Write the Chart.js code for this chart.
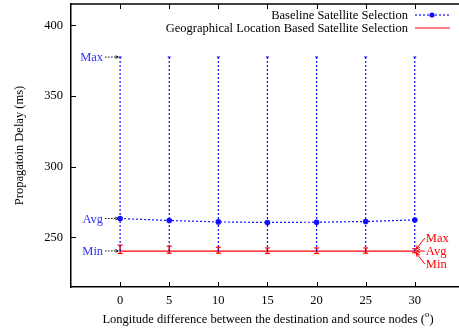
<!DOCTYPE html>
<html lang="en">
<head>
  <meta charset="UTF-8" />
  <title>Propagation Delay</title>
  <script src="https://cdn.jsdelivr.net/npm/chart.js"></script>
  <style>
    html, body { margin: 0; padding: 0; background: #fff; }
    #wrap { width: 459px; height: 330px; }
  </style>
</head>
<body>
  <div id="wrap"><canvas id="chart"></canvas></div>

  <script>
    const xValues = [0, 5, 10, 15, 20, 25, 30];
    const xTicks = [0, 5, 10, 15, 20, 25, 30];
    const yTicks = [250, 300, 350, 400];

    // Baseline: avg with min/max range
    const baseAvg = [263.4, 262.0, 261.0, 260.6, 260.8, 261.3, 262.4];
    const baseMax = [377.5, 377.5, 377.5, 377.5, 377.5, 377.5, 377.5];
    const baseMin = [240.5, 240.5, 240.5, 240.5, 240.5, 240.5, 240.5];

    // Geographical location based: avg with min/max range
    const geoAvg = [240.4, 240.4, 240.4, 240.4, 240.4, 240.4, 240.4];
    const geoMax = [244.6, 243.8, 243.1, 242.6, 242.6, 242.6, 242.0];
    const geoMin = [238.7, 238.9, 238.9, 238.7, 238.7, 238.9, 239.2];

    const FONT = '"Liberation Serif", "Times New Roman", serif';
    const BLUE = '#1010ff';
    const RED = '#ff0000';

    const pts = (xs, ys) => xs.map((x, i) => ({ x, y: ys[i] }));
    const rangeSegs = (lo, hi) => {
      const out = [];
      xValues.forEach((x, i) => {
        out.push({ x, y: lo[i] }, { x, y: hi[i] }, { x, y: null });
      });
      return out;
    };

    function line(ctx, x1, y1, x2, y2) {
      ctx.beginPath();
      ctx.moveTo(x1, y1);
      ctx.lineTo(x2, y2);
      ctx.stroke();
    }

    function arrow(ctx, x1, y1, x2, y2, size) {
      line(ctx, x1, y1, x2, y2);
      const a = Math.atan2(y2 - y1, x2 - x1);
      ctx.setLineDash([]);
      ctx.beginPath();
      ctx.moveTo(x2, y2);
      ctx.lineTo(x2 - size * Math.cos(a - 0.45), y2 - size * Math.sin(a - 0.45));
      ctx.moveTo(x2, y2);
      ctx.lineTo(x2 - size * Math.cos(a + 0.45), y2 - size * Math.sin(a + 0.45));
      ctx.stroke();
    }

    const decor = {
      id: 'decor',
      afterDatasetsDraw(chart) {
        const { ctx, chartArea: a, scales: { x, y } } = chart;
        ctx.save();

        // error bar caps
        ctx.lineWidth = 1.2;
        xValues.forEach((v, i) => {
          const px = x.getPixelForValue(v);
          ctx.strokeStyle = BLUE;
          line(ctx, px - 1.5, y.getPixelForValue(baseMax[i]), px + 1.5, y.getPixelForValue(baseMax[i]));
          ctx.strokeStyle = RED;
          line(ctx, px - 2.5, y.getPixelForValue(geoMax[i]), px + 2.5, y.getPixelForValue(geoMax[i]));
          line(ctx, px - 2.5, y.getPixelForValue(geoMin[i]), px + 2.5, y.getPixelForValue(geoMin[i]));
        });

        // frame top and inner ticks
        ctx.strokeStyle = '#000';
        ctx.lineWidth = 1.5;
        line(ctx, a.left, a.top, a.right, a.top);
        ctx.lineWidth = 1;
        xTicks.forEach(v => {
          const px = Math.round(x.getPixelForValue(v)) + 0.5;
          line(ctx, px, a.bottom, px, a.bottom - 5);
          line(ctx, px, a.top, px, a.top + 5);
        });
        yTicks.forEach(v => {
          const py = Math.round(y.getPixelForValue(v)) + 0.5;
          line(ctx, a.left, py, a.left + 5, py);
        });

        // blue annotations at x = 0
        const x0 = x.getPixelForValue(xValues[0]);
        ctx.font = '12.5px ' + FONT;
        ctx.textBaseline = 'middle';
        [['Max', baseMax[0]], ['Avg', baseAvg[0]], ['Min', baseMin[0]]].forEach(([t, v]) => {
          const py = y.getPixelForValue(v);
          ctx.fillStyle = '#3030ff';
          ctx.textAlign = 'right';
          ctx.fillText(t, x0 - 17, py + 1);
          ctx.strokeStyle = '#000';
          ctx.lineWidth = 1;
          ctx.setLineDash([1.5, 1.5]);
          arrow(ctx, x0 - 15, py, x0 - 2, py, 3);
        });

        // red annotations at x = 30
        const last = xValues.length - 1;
        const xr = x.getPixelForValue(xValues[last]);
        const yr = y.getPixelForValue(geoAvg[last]);
        ctx.fillStyle = RED;
        ctx.strokeStyle = RED;
        ctx.textAlign = 'left';
        ctx.lineWidth = 1;
        ctx.setLineDash([]);
        [['Max', -13], ['Avg', 0], ['Min', 13]].forEach(([t, dy]) => {
          ctx.fillText(t, xr + 11, yr + dy + 1);
          arrow(ctx, xr + 10, yr + dy, xr + 1.5, yr + dy * 0.15, 4);
        });

        // legend
        ctx.fillStyle = '#000';
        ctx.textAlign = 'right';
        ctx.fillText('Baseline Satellite Selection', 408, 16);
        ctx.fillText('Geographical Location Based Satellite Selection', 408, 29);
        ctx.strokeStyle = BLUE;
        ctx.lineWidth = 1.2;
        ctx.setLineDash([2, 2]);
        line(ctx, 415, 15, 450, 15);
        ctx.setLineDash([]);
        ctx.fillStyle = BLUE;
        ctx.beginPath();
        ctx.arc(432, 15, 2.6, 0, Math.PI * 2);
        ctx.fill();
        ctx.strokeStyle = RED;
        line(ctx, 415, 28, 450, 28);

        // x axis title with superscript
        ctx.fillStyle = '#000';
        ctx.textAlign = 'left';
        const main = 'Longitude difference between the destination and source nodes (';
        const wMain = ctx.measureText(main).width;
        ctx.font = '9px ' + FONT;
        const wSup = ctx.measureText('o').width;
        ctx.font = '12.5px ' + FONT;
        const wEnd = ctx.measureText(')').width;
        let sx = 268 - (wMain + wSup + wEnd) / 2;
        ctx.fillText(main, sx, 320);
        sx += wMain;
        ctx.font = '9px ' + FONT;
        ctx.fillText('o', sx, 315);
        sx += wSup;
        ctx.font = '12.5px ' + FONT;
        ctx.fillText(')', sx, 320);

        ctx.restore();
      }
    };

    new Chart(document.getElementById('chart'), {
      type: 'scatter',
      data: {
        datasets: [
          {
            label: 'Baseline range',
            data: rangeSegs(baseMin, baseMax),
            showLine: true,
            spanGaps: false,
            borderColor: BLUE,
            borderWidth: 1.2,
            borderDash: [2, 2],
            pointRadius: 0
          },
          {
            label: 'Baseline Satellite Selection',
            data: pts(xValues, baseAvg),
            showLine: true,
            borderColor: BLUE,
            backgroundColor: BLUE,
            borderWidth: 1.2,
            borderDash: [2, 2],
            pointRadius: 2.8,
            pointBorderWidth: 0
          },
          {
            label: 'Geo range',
            data: rangeSegs(geoMin, geoMax),
            showLine: true,
            spanGaps: false,
            borderColor: RED,
            borderWidth: 1.5,
            pointRadius: 0
          },
          {
            label: 'Geographical Location Based Satellite Selection',
            data: pts(xValues, geoAvg),
            showLine: true,
            borderColor: RED,
            borderWidth: 1.2,
            pointRadius: 0
          }
        ]
      },
      options: {
        responsive: true,
        maintainAspectRatio: false,
        animation: false,
        layout: { autoPadding: false, padding: { top: 4, right: 0, left: 0, bottom: 0 } },
        plugins: { legend: { display: false }, tooltip: { enabled: false } },
        scales: {
          x: {
            type: 'linear',
            min: -5,
            max: 34.5,
            afterBuildTicks: s => { s.ticks = xTicks.map(v => ({ value: v })); },
            afterFit: s => { s.height = 43; s.paddingLeft = 0; s.paddingRight = 0; },
            grid: { display: false, drawTicks: false },
            border: { display: true, color: '#000', width: 1.5 },
            ticks: { color: '#000', padding: 6, font: { family: FONT, size: 12.5 } }
          },
          y: {
            min: 215,
            max: 415,
            afterBuildTicks: s => { s.ticks = yTicks.map(v => ({ value: v })); },
            afterFit: s => { s.width = 71; s.paddingTop = 0; s.paddingBottom = 0; },
            grid: { display: false, drawTicks: false },
            border: { display: true, color: '#000', width: 1.5 },
            ticks: { color: '#000', padding: 8, font: { family: FONT, size: 12.5 } },
            title: {
              display: true,
              text: 'Propagatoin Delay (ms)',
              color: '#000',
              padding: { top: 12, bottom: 0 },
              font: { family: FONT, size: 12.5 }
            }
          }
        }
      },
      plugins: [decor]
    });
  </script>
</body>
</html>
